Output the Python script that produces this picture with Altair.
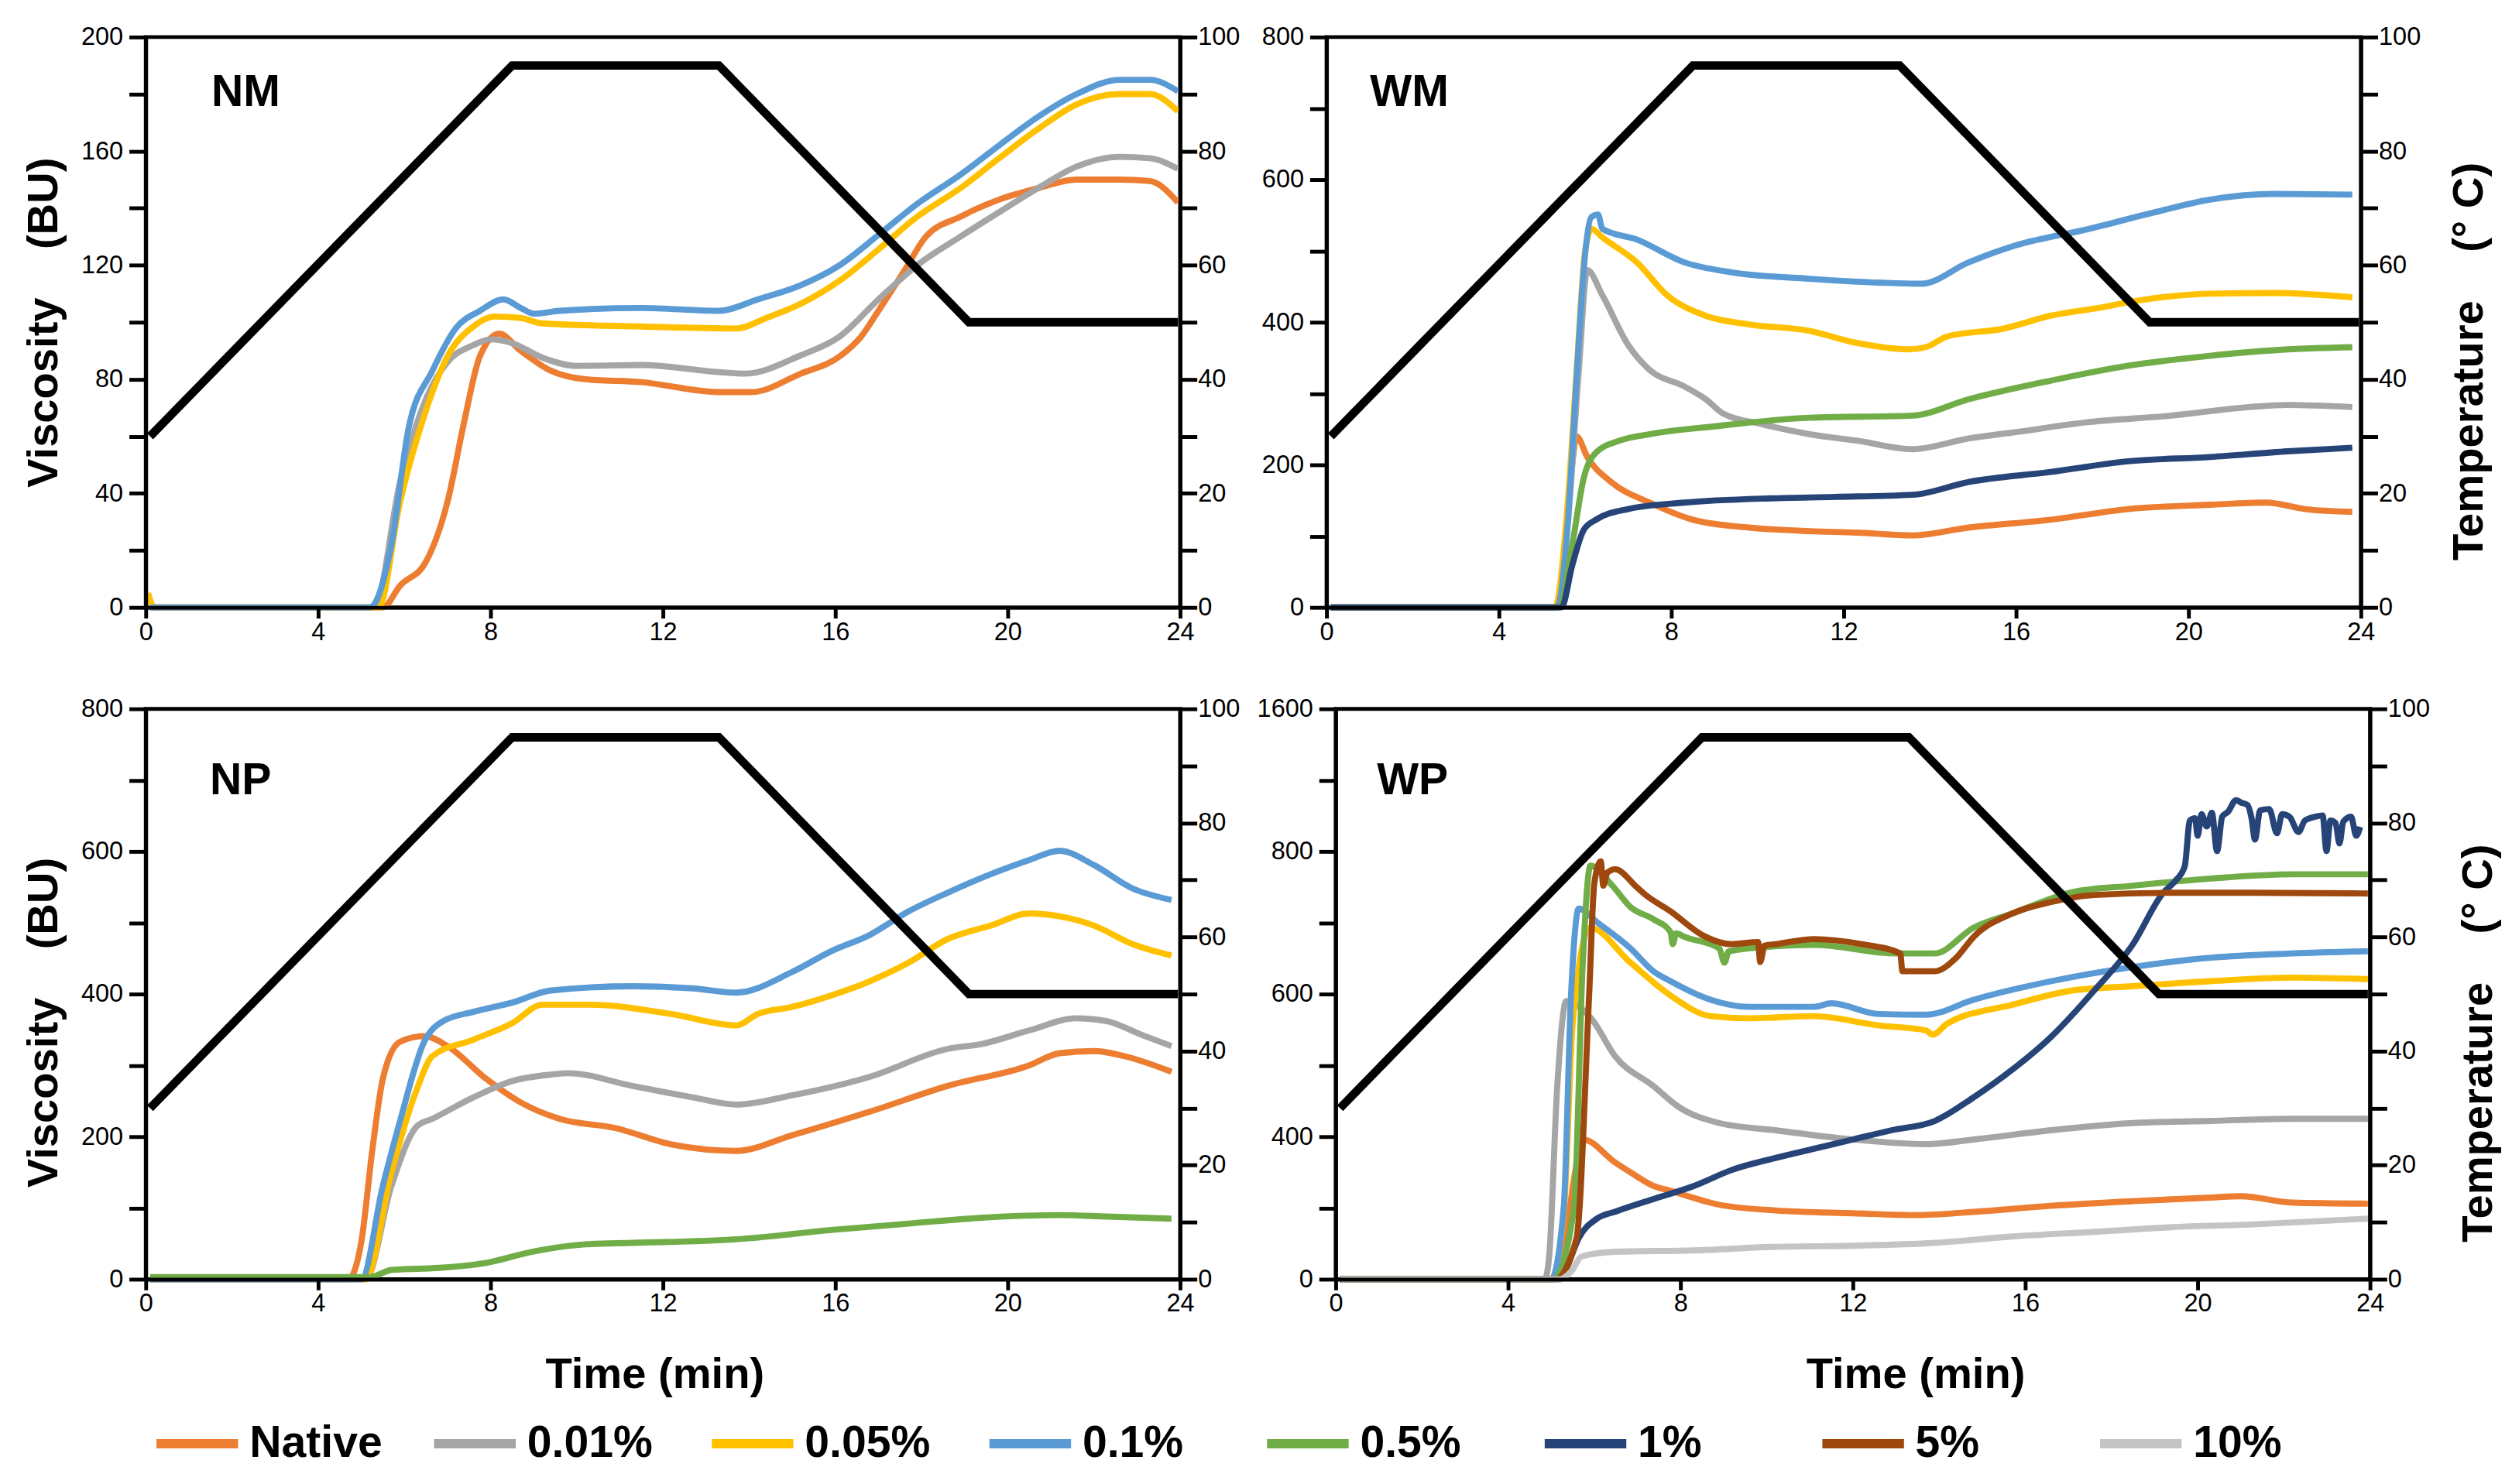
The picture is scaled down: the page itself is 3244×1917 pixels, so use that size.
import altair as alt
import pandas as pd

SERIES = ["Native", "0.01%", "0.05%", "0.1%", "0.5%", "1%", "5%", "10%"]
COLORS = ["#ED7D31", "#A5A5A5", "#FFC000", "#5B9BD5", "#70AD47", "#264478", "#9E480E", "#C4C4C4"]

TIME_TICKS = [0, 4, 8, 12, 16, 20, 24]
TEMP_T = [0.1, 8.5, 13.3, 19.1, 23.95]
TEMP_C = [30, 95, 95, 50, 50]

# ---------------- NM ----------------
NM_NATIVE = [(0.1, 0), (5.5, 0), (5.9, 7.6), (6.5, 16), (7.0, 37), (7.4, 66), (7.75, 88), (8.2, 96), (8.7, 90),
             (9.4, 83), (10.2, 80), (11.5, 79), (13.3, 75.5), (14.05, 75.5), (15.2, 82), (16.1, 88), (16.6, 95),
             (17.0, 104), (17.6, 118), (18.1, 130), (18.9, 137), (19.8, 143), (20.7, 147), (21.6, 150),
             (22.6, 150), (23.3, 149.5), (23.95, 142)]
NM_001 = [(0.1, 0), (5.3, 0), (5.9, 44), (6.5, 73), (7.0, 86), (7.6, 92), (8.0, 94), (8.5, 92.7), (9.2, 87.6),
          (10.0, 84.7), (11.5, 85), (13.3, 82.5), (13.9, 82), (15.2, 88.4), (16.1, 95), (17.0, 108), (17.9, 120),
          (18.9, 130), (19.8, 138.6), (20.7, 147), (21.6, 154.6), (22.6, 158), (23.3, 157.5), (23.95, 153.8)]
NM_005 = [(0.05, 5), (0.2, 0), (5.4, 0), (5.9, 37), (6.5, 69), (7.0, 88), (7.6, 98.5), (8.1, 102), (8.7, 101.5),
          (9.2, 99.6), (11.5, 98.5), (13.7, 97.8), (14.4, 101.5), (15.2, 106.5), (16.1, 114.6), (17.0, 125.5),
          (17.9, 137), (18.9, 147), (19.8, 157.5), (20.7, 167.7), (21.6, 176.4), (22.6, 180), (23.3, 180),
          (23.95, 174)]
NM_01 = [(0.1, 0), (5.2, 0), (5.7, 22), (6.1, 63), (6.65, 83), (7.2, 98), (7.75, 104), (8.3, 108), (8.7, 105),
         (9.0, 103), (9.6, 104), (11.5, 105), (13.3, 104), (14.2, 108), (15.2, 113), (16.1, 120), (17.0, 130.6),
         (17.9, 141.5), (18.9, 151.7), (19.8, 162), (20.7, 172), (21.6, 180), (22.6, 185), (23.3, 185),
         (23.95, 181)]

# ---------------- WM ----------------
WM_NATIVE = [(0.1, 0), (5.3, 0), (5.5, 60), (5.7, 200), (5.8, 240), (6.05, 211), (6.6, 176), (7.5, 147), (8.5, 123),
             (9.8, 112), (11.2, 107), (12.3, 105), (13.6, 101), (14.9, 112), (16.8, 123), (18.6, 138), (20.5, 144),
             (21.8, 147), (22.7, 138), (23.8, 134)]
WM_001 = [(0.1, 0), (5.35, 0), (5.6, 120), (5.85, 330), (6.05, 473), (6.4, 438), (7.0, 368), (7.5, 333), (8.3, 310),
          (8.8, 292), (9.2, 272), (10.1, 257), (11.2, 243), (12.3, 234), (13.6, 222), (14.9, 237), (16.0, 246),
          (17.7, 260), (19.6, 269), (21.4, 281), (22.3, 284), (23.8, 281)]
WM_005 = [(0.1, 0), (5.3, 0), (5.6, 150), (5.8, 330), (6.0, 500), (6.15, 531), (6.4, 519), (7.2, 484), (7.9, 438),
          (8.8, 409), (9.8, 397), (11.2, 388), (12.3, 371), (13.5, 362), (13.9, 365), (14.4, 380), (15.7, 391),
          (16.8, 409), (17.9, 420), (19.0, 432), (20.5, 440), (22.0, 441), (23.8, 435)]
WM_01 = [(0.1, 0), (5.35, 0), (5.6, 120), (5.8, 321), (6.0, 496), (6.15, 548), (6.3, 551), (6.4, 531), (7.2, 516),
         (8.3, 484), (9.4, 470), (11.2, 461), (13.1, 455), (13.8, 454), (14.9, 484), (16.0, 508), (17.7, 531),
         (19.2, 554), (20.5, 572), (22.0, 580), (23.8, 579)]
WM_05 = [(0.1, 0), (5.4, 0), (5.7, 88), (5.97, 182), (6.25, 217), (6.8, 234), (7.5, 243), (9.0, 254), (11.2, 266),
         (13.6, 269), (14.9, 292), (16.8, 318), (18.6, 339), (20.5, 353), (22.3, 362), (23.8, 365)]
WM_1 = [(0.1, 0), (5.45, 0), (5.7, 59), (5.97, 109), (6.25, 123), (7.0, 138), (8.3, 147), (10.3, 153), (11.8, 155),
        (13.6, 158), (14.9, 176), (16.8, 190), (18.6, 205), (20.5, 211), (22.3, 219), (23.8, 224)]

# ---------------- NP ----------------
NP_NATIVE = [(0.1, 0), (4.7, 0), (5.0, 52), (5.26, 183), (5.5, 281), (5.9, 333), (6.46, 341), (7.0, 327), (7.9, 281),
             (8.7, 248), (9.6, 225), (10.9, 212), (12.2, 189), (13.7, 180), (15.0, 202), (16.8, 235), (18.6, 271),
             (20.5, 300), (21.2, 317), (22.0, 320), (22.7, 313), (23.8, 291)]
NP_001 = [(0.1, 0), (5.1, 0), (5.7, 131), (6.3, 215), (6.65, 225), (7.6, 255), (8.5, 278), (9.4, 287), (9.8, 289),
          (11.3, 271), (12.7, 255), (13.7, 245), (15.0, 258), (16.8, 284), (18.6, 323), (19.4, 330), (20.5, 349),
          (21.6, 366), (22.3, 362), (23.1, 343), (23.8, 327)]
NP_005 = [(0.1, 0), (5.1, 0), (5.7, 150), (6.3, 268), (6.65, 313), (7.6, 336), (8.5, 359), (9.2, 385), (10.3, 385),
          (12.2, 372), (13.7, 356), (14.2, 372), (15.0, 382), (15.9, 398), (16.8, 418), (17.7, 444), (18.6, 477),
          (19.6, 496), (20.5, 513), (21.2, 509), (22.0, 496), (22.9, 470), (23.8, 454)]
NP_01 = [(0.1, 0), (5.0, 0), (5.5, 131), (5.9, 222), (6.46, 333), (6.9, 362), (7.6, 375), (8.5, 388), (9.4, 405),
         (11.3, 411), (12.7, 408), (13.7, 402), (15.0, 431), (15.9, 460), (16.8, 483), (17.7, 516), (18.6, 542),
         (19.6, 568), (20.5, 588), (21.2, 601), (22.0, 581), (22.9, 548), (23.8, 532)]
NP_05 = [(0.1, 3), (5.2, 3), (5.7, 13), (6.8, 16), (7.9, 23), (9.0, 39), (10.2, 49), (11.3, 51), (13.7, 56),
         (15.9, 69), (17.7, 78), (19.6, 87), (21.2, 90), (22.3, 88), (23.8, 85)]

# ---------------- WP ----------------
WP_NATIVE = [(0.1, 0), (5.0, 0), (5.3, 100), (5.6, 330), (5.74, 392), (6.48, 328), (6.84, 300), (7.37, 262),
             (7.77, 248), (8.9, 209), (10.2, 193), (12.0, 185), (13.5, 180), (14.8, 189), (16.6, 206), (18.5, 219),
             (20.3, 229), (21.0, 233), (22.2, 215), (23.95, 212)]
WP_001 = [(0.1, 0), (4.85, 0), (4.95, 60), (5.14, 470), (5.35, 590), (5.94, 565), (6.48, 513), (7.37, 471),
          (7.95, 442), (8.9, 419), (10.2, 409), (12.0, 392), (13.7, 379), (14.8, 392), (16.6, 409), (18.5, 419),
          (20.3, 422), (22.2, 425), (23.95, 425)]
WP_005 = [(0.1, 0), (5.0, 0), (5.3, 200), (5.5, 560), (5.9, 693), (6.84, 644), (7.77, 598), (8.7, 569), (9.6, 566),
          (11.1, 569), (12.6, 556), (13.7, 549), (13.85, 543), (14.2, 559), (15.7, 585), (17.1, 605), (18.5, 611),
          (20.3, 618), (22.2, 623), (23.95, 621)]
WP_01 = [(0.1, 0), (5.0, 0), (5.29, 200), (5.46, 598), (5.64, 720), (6.06, 701), (6.84, 664), (7.37, 632),
         (7.77, 618), (8.7, 592), (9.6, 582), (11.1, 582), (11.5, 587), (12.6, 572), (13.7, 571), (14.8, 592),
         (16.6, 618), (18.5, 638), (20.3, 651), (22.2, 657), (23.95, 660)]
WP_05 = [(0.1, 0), (5.05, 0), (5.53, 200), (5.73, 641), (5.91, 780), (6.42, 752), (6.84, 722), (7.37, 705),
         (7.77, 687), (7.82, 670), (7.9, 685), (8.1, 680), (8.9, 664), (9.02, 644), (9.12, 660), (10.2, 667),
         (11.1, 669), (13.0, 657), (13.9, 657), (14.8, 693), (15.7, 713), (17.1, 743), (18.5, 752), (20.3, 762),
         (22.2, 768), (23.95, 768)]
WP_1 = [(0.1, 0), (5.2, 0), (5.35, 30), (5.64, 116), (6.06, 170), (6.5, 190), (7.4, 226), (8.3, 261), (9.2, 307),
        (10.2, 340), (11.1, 366), (12.0, 392), (12.9, 409), (13.9, 422), (14.8, 455), (15.7, 494), (16.6, 540),
        (17.6, 605), (18.5, 670), (19.2, 742), (19.47, 758), (19.7, 779), (19.82, 974), (19.94, 987), (20.0, 888),
        (20.09, 1009), (20.21, 940), (20.33, 1017), (20.45, 802), (20.57, 995), (20.71, 1024), (20.89, 1088),
        (21.01, 1074), (21.16, 1060), (21.25, 988), (21.33, 867), (21.45, 1031), (21.66, 1038), (21.84, 902),
        (21.96, 1009), (22.13, 995), (22.34, 909), (22.49, 974), (22.73, 995), (22.9, 1002), (22.99, 802),
        (23.08, 974), (23.2, 960), (23.29, 845), (23.38, 967), (23.56, 995), (23.68, 888), (23.77, 938)]
WP_5 = [(0.1, 0), (5.1, 0), (5.59, 116), (5.88, 598), (6.0, 755), (6.15, 786), (6.21, 752), (6.3, 770), (6.48, 775),
        (7.0, 749), (7.19, 739), (7.77, 716), (8.5, 683), (9.2, 670), (9.8, 673), (9.85, 645), (9.95, 668),
        (10.2, 670), (11.1, 677), (12.2, 670), (13.1, 657), (13.15, 632), (13.9, 632), (14.4, 651), (14.8, 680),
        (15.7, 713), (16.6, 729), (17.6, 739), (19.4, 742), (21.3, 742), (23.95, 741)]
WP_10 = [(0.1, 0), (5.2, 0), (5.46, 21), (5.71, 64), (6.48, 77), (8.3, 81), (10.2, 91), (12.0, 94), (13.9, 102),
         (15.7, 120), (17.6, 133), (19.4, 146), (21.3, 154), (23.95, 170)]

W, H = 1356, 748
FONT = "Liberation Sans"
NB = "\u00a0"

color_enc = alt.Color(
    "series:N",
    scale=alt.Scale(domain=SERIES, range=COLORS),
    legend=alt.Legend(
        title=None, orient="none", legendX=8, legendY=1785, direction="horizontal", columns=8,
        gridAlign="all", symbolType="stroke", symbolSize=11449, symbolStrokeWidth=12,
        labelFont=FONT, labelFontSize=58, labelFontWeight="bold", labelColor="black",
        labelOffset=9, columnPadding=43, padding=0, labelLimit=500,
    ),
)


def label_expr(labeled):
    return "indexof([" + ",".join(str(v) for v in labeled) + "], datum.value) >= 0 ? datum.label : ''"


def make_panel(name, name_dx, name_dy, series, y_scale, y_values, y_labeled,
               left_title, left_ty, right_title, right_ty, x_title, x_title_x):
    rows = [{"t": t, "v": v, "series": s} for s, pts in series for t, v in pts]
    df = pd.DataFrame(rows)
    temp_df = pd.DataFrame({"t": TEMP_T, "c": TEMP_C})

    x_kw = dict(values=TIME_TICKS, format="d", labelFlush=False, tickSize=14, labelPadding=2,
                zindex=1, labelOverlap=False)
    if x_title:
        x_axis = alt.Axis(title=x_title, titleX=x_title_x, titlePadding=48, **x_kw)
    else:
        x_axis = alt.Axis(title=None, **x_kw)
    x_enc = alt.X("t:Q", scale=alt.Scale(domain=[0, 24], nice=False), axis=x_axis)

    yl_kw = dict(values=y_values, format="d", labelExpr=label_expr(y_labeled), tickSize=22,
                 labelPadding=8, zindex=1, labelOverlap=False)
    if left_title:
        y_axis = alt.Axis(title=left_title, titlePadding=19, titleY=left_ty, **yl_kw)
    else:
        y_axis = alt.Axis(title=None, **yl_kw)

    visc = alt.Chart(df).mark_line(strokeWidth=8, interpolate="monotone", strokeJoin="round").encode(
        x=x_enc,
        y=alt.Y("v:Q", scale=y_scale, axis=y_axis),
        color=color_enc,
        detail="series:N",
    )

    yr_kw = dict(orient="right", values=list(range(0, 101, 10)), format="d",
                 labelExpr=label_expr(list(range(0, 101, 20))), tickSize=22, labelPadding=1,
                 zindex=1, labelOverlap=False)
    if right_title:
        yr_axis = alt.Axis(title=right_title, titleAngle=-90, titleBaseline="top", titlePadding=36,
                           titleY=right_ty, **yr_kw)
    else:
        yr_axis = alt.Axis(title=None, **yr_kw)

    temp = alt.Chart(temp_df).mark_line(color="black", strokeWidth=11).encode(
        x=x_enc,
        y=alt.Y("c:Q", scale=alt.Scale(domain=[0, 100], nice=False), axis=yr_axis),
    )

    txt = alt.Chart(pd.DataFrame({"name": [name]})).mark_text(
        font=FONT, fontSize=58, fontWeight="bold", align="left", baseline="alphabetic", color="black"
    ).encode(x=alt.value(name_dx), y=alt.value(name_dy), text="name:N")

    return alt.layer(visc, temp, txt).resolve_scale(y="independent").properties(width=W, height=H)


VTITLE = "Viscosity" + NB * 4 + "(BU)"
TTITLE = "Temperature" + NB * 4 + "(°" + NB + "C)"

nm = make_panel("NM", 86, 90, [("Native", NM_NATIVE), ("0.01%", NM_001), ("0.05%", NM_005), ("0.1%", NM_01)],
                alt.Scale(domain=[0, 200], nice=False), list(range(0, 201, 20)), list(range(0, 201, 40)),
                VTITLE, 374, None, 0, None, 0)
wm = make_panel("WM", 57, 90, [("Native", WM_NATIVE), ("0.01%", WM_001), ("0.05%", WM_005), ("0.1%", WM_01),
                               ("0.5%", WM_05), ("1%", WM_1)],
                alt.Scale(domain=[0, 800], nice=False), list(range(0, 801, 100)), list(range(0, 801, 200)),
                None, 0, TTITLE, 425, None, 0)
np_ = make_panel("NP", 84, 112, [("Native", NP_NATIVE), ("0.01%", NP_001), ("0.05%", NP_005), ("0.1%", NP_01),
                                 ("0.5%", NP_05)],
                 alt.Scale(domain=[0, 800], nice=False), list(range(0, 801, 100)), list(range(0, 801, 200)),
                 VTITLE, 411, None, 0, "Time (min)", 667)
wp = make_panel("WP", 54, 112, [("Native", WP_NATIVE), ("0.01%", WP_001), ("0.05%", WP_005), ("0.1%", WP_01),
                                ("0.5%", WP_05), ("1%", WP_1), ("5%", WP_5), ("10%", WP_10)],
                alt.Scale(domain=[0, 400, 800, 1600], range=[H, H * 0.75, H * 0.25, 0], nice=False, zero=False),
                [0, 200, 400, 500, 600, 700, 800, 1200, 1600], [0, 400, 600, 800, 1600],
                None, 0, TTITLE, 438, "Time (min)", 760)

top = alt.hconcat(nm, wm, spacing=23)
bottom = alt.hconcat(np_, wp, spacing=17)

chart = alt.vconcat(top, bottom, spacing=62).properties(
    padding={"left": 18, "top": 7, "right": 5, "bottom": 5}
).configure_view(
    stroke="black", strokeWidth=5
).configure_axis(
    grid=False, domainColor="black", domainWidth=5, tickColor="black", tickWidth=5,
    labelFont=FONT, labelFontSize=33, labelColor="black",
    titleFont=FONT, titleFontSize=57, titleFontWeight="bold", titleColor="black",
)

chart.save("out.html", embed_options={"renderer": "svg", "actions": False})
